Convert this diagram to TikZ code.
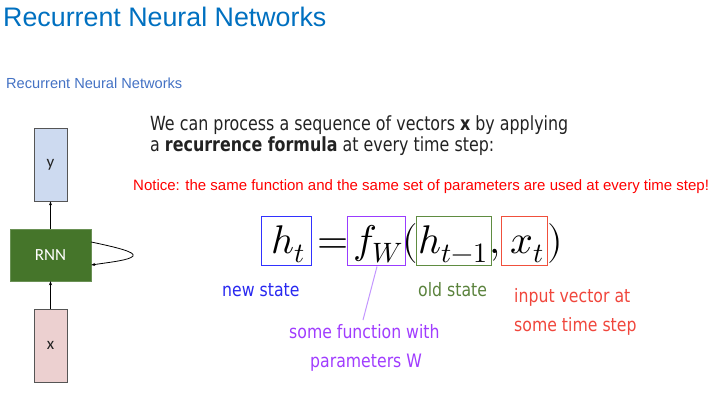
\documentclass[tikz,border=0pt]{standalone}
\usepackage{fontspec}
\usepackage{unicode-math}
\setmainfont{Liberation Sans}
\setmathfont{Latin Modern Math}
\newfontfamily\tahfont[FakeStretch=0.85]{DejaVu Sans}
\newfontfamily\bodyfont[FakeStretch=0.815]{DejaVu Sans}
\newfontfamily\calfont{Carlito}
\usetikzlibrary{arrows.meta}
\definecolor{titleblue}{RGB}{0,112,192}
\definecolor{subblue}{RGB}{68,114,196}
\definecolor{yfill}{RGB}{205,218,240}
\definecolor{xfill}{RGB}{236,208,208}
\definecolor{rnngreen}{RGB}{69,117,42}
\definecolor{boxedge}{RGB}{85,85,85}
\definecolor{notered}{RGB}{255,0,0}
\definecolor{txtgray}{RGB}{34,34,34}
\definecolor{eqblue}{RGB}{50,50,255}
\definecolor{eqpurple}{RGB}{153,60,255}
\definecolor{eqgreen}{RGB}{95,140,65}
\definecolor{eqred}{RGB}{240,80,60}
\definecolor{linepurple}{RGB}{195,150,255}
\definecolor{lblblue}{RGB}{40,40,240}
\definecolor{lblgreen}{RGB}{90,130,60}
\definecolor{lblred}{RGB}{240,70,60}
\definecolor{lblpurple}{RGB}{160,60,255}
\tikzset{
  vecbox/.style={draw=boxedge, line width=0.8pt, minimum width=33pt, minimum height=73pt, inner sep=0pt, font=\calfont\fontsize{17}{20}\selectfont, text=txtgray},
  rnnbox/.style={draw=rnngreen!80!white, fill=rnngreen, minimum width=81pt, minimum height=52pt, inner sep=0pt, text=white, font=\calfont\fontsize{17}{20}\selectfont},
  flow/.style={-{Stealth[length=4pt,width=3pt]}, line width=0.8pt, black},
  eqbox/.style={draw, line width=1pt, minimum height=49pt, inner sep=0pt},
  eqtext/.style={anchor=base, inner sep=0pt, font=\fontsize{40}{48}\selectfont},
  lbl/.style={anchor=base west, inner sep=0pt, font=\tahfont\fontsize{18.5}{22}\selectfont},
  body/.style={anchor=base west, inner sep=0pt, text=txtgray, font=\bodyfont\fontsize{19.5}{23}\selectfont}
}
\begin{document}
\begin{tikzpicture}[x=1pt,y=-1pt]
\useasboundingbox (0,0) rectangle (726,401);
% titles
\node[anchor=base west, inner sep=0pt, text=titleblue, font=\fontsize{26.8}{30}\selectfont] (title) at (3,27) {Recurrent Neural Networks};
\node[anchor=base west, inner sep=0pt, text=subblue, font=\fontsize{14.6}{17}\selectfont] (subtitle) at (6,89) {Recurrent Neural Networks};
% left diagram
\node[vecbox, fill=yfill] (y) at (50.5,164.5) {y};
\node[rnnbox] (rnn) at (50.5,255) {RNN};
\node[vecbox, fill=xfill] (x) at (50.5,345.5) {x};
\draw[flow] (rnn.north) -- (y.south);
\draw[flow] (x.north) -- (rnn.south);
\draw[flow] ([yshift=13pt]rnn.east) .. controls (115,247) and (136,252) .. (133,256) .. controls (130,260) and (112,262) .. ([yshift=-10pt]rnn.east);
% body text
\node[body] (line1) at (150,131) {We can process a sequence of vectors \textbf{x} by applying};
\node[body] (line2) at (150,152) {a \textbf{recurrence formula} at every time step:};
\node[anchor=base west, inner sep=0pt, text=notered, font=\fontsize{15}{18}\selectfont] (notice) at (133,190) {Notice: the same function and the same set of parameters are used at every time step!};
% equation boxes
\node[eqbox, draw=eqblue, minimum width=50pt] (bht) at (286,240.5) {};
\node[eqbox, draw=eqpurple, minimum width=58pt] (bfw) at (376,240.5) {};
\node[eqbox, draw=eqgreen, minimum width=75pt] (bhold) at (453.5,240.5) {};
\node[eqbox, draw=eqred, minimum width=46pt] (bxt) at (524,240.5) {};
% equation text
\node[eqtext] (ht) at (288,253) {$h_t$};
\node[eqtext] (eq) at (333.5,253) {$=$};
\node[eqtext] (fw) at (378.5,253) {$f_W$};
\node[eqtext] (lp) at (410,253) {$($};
\node[eqtext] (hold) at (453.5,253) {$h_{t-1}$};
\node[eqtext] (comma) at (495,253) {$,$};
\node[eqtext] (xt) at (527.5,253) {$x_t$};
\node[eqtext] (rp) at (555,253) {$)$};
% labels
\coordinate (fwend) at (363,320);
\draw[linepurple, line width=1pt] ([xshift=1pt,yshift=-1pt]bfw.south) -- (fwend);
\node[lbl, text=lblblue] (newstate) at (222,296) {new state};
\node[lbl, text=lblgreen] (oldstate) at (418,296) {old state};
\node[lbl, text=lblred] (input1) at (514,302) {input vector at};
\node[lbl, text=lblred] (input2) at (514,331) {some time step};
\node[lbl, text=lblpurple] (func1) at (289,338) {some function with};
\node[lbl, text=lblpurple] (func2) at (310,367) {parameters W};
\end{tikzpicture}
\end{document}
